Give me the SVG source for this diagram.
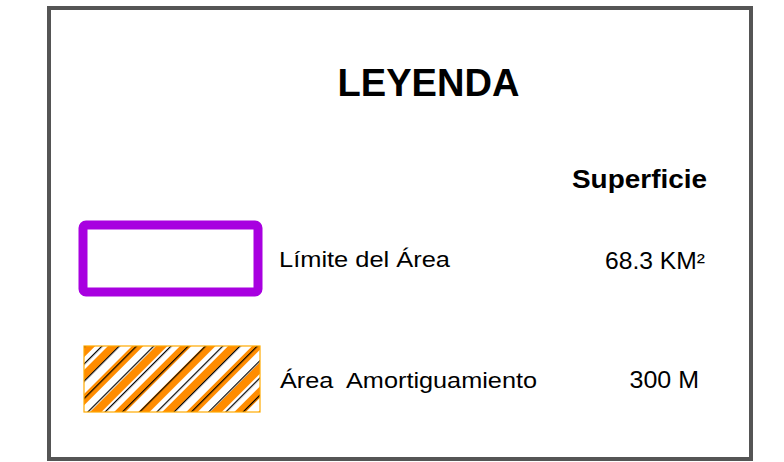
<svg xmlns="http://www.w3.org/2000/svg" width="784" height="462" viewBox="0 0 784 462">
  <style>
    .t { font-family: "Liberation Sans", Arial, sans-serif; fill: #000; }
    .b { font-weight: bold; }
  </style>
  <defs>
    <pattern id="orangeStripes" patternUnits="userSpaceOnUse" width="17" height="17" patternTransform="translate(84 346) rotate(45)">
      <rect x="0" y="0" width="8" height="17" fill="#FF8C00"/>
    </pattern>
    <pattern id="blackLines" patternUnits="userSpaceOnUse" width="12.2" height="12.2" patternTransform="translate(84 346) rotate(45)">
      <rect x="0" y="0" width="1.2" height="12.2" fill="#000"/>
    </pattern>
  </defs>
  <rect x="0" y="0" width="784" height="462" fill="#fff"/>
  <g id="frame">
    <rect x="49" y="8" width="702" height="451" fill="#fff" stroke="#555" stroke-width="4"/>
  </g>
  <g id="title">
    <text class="t b" x="337.5" y="96" font-size="38" textLength="182" lengthAdjust="spacingAndGlyphs">LEYENDA</text>
  </g>
  <g id="header">
    <text class="t b" x="572" y="187.5" font-size="25" textLength="135" lengthAdjust="spacingAndGlyphs">Superficie</text>
  </g>
  <g id="limite">
    <rect x="83" y="225" width="175" height="67" rx="3" fill="#fff" stroke="#A800E0" stroke-width="9"/>
    <text class="t" x="279" y="267.3" font-size="22" textLength="171" lengthAdjust="spacingAndGlyphs">Límite del Área</text>
    <text class="t" x="605" y="269.3" font-size="23" textLength="100" lengthAdjust="spacingAndGlyphs">68.3 KM²</text>
  </g>
  <g id="amortiguamiento">
    <rect x="84" y="346" width="176" height="66" fill="#fff"/>
    <rect x="84" y="346" width="176" height="66" fill="url(#orangeStripes)"/>
    <rect x="84" y="346" width="176" height="66" fill="url(#blackLines)"/>
    <rect x="84" y="346" width="176" height="66" fill="none" stroke="#FFAA00" stroke-width="1.2"/>
    <text class="t" x="280" y="388" font-size="22" textLength="257" lengthAdjust="spacingAndGlyphs" xml:space="preserve">Área  Amortiguamiento</text>
    <text class="t" x="629.5" y="388" font-size="23" textLength="69.5" lengthAdjust="spacingAndGlyphs">300 M</text>
  </g>
  <g id="connectors"/>
</svg>
